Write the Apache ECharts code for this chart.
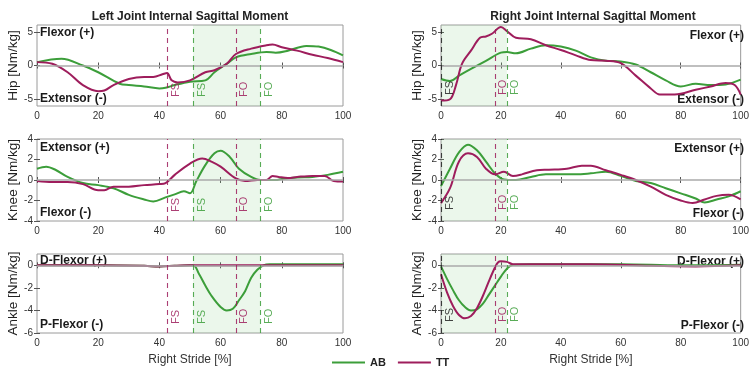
<!DOCTYPE html>
<html>
<head>
<meta charset="utf-8">
<script src="https://cdn.jsdelivr.net/npm/echarts@6/dist/echarts.min.js"></script>
<style>
  html, body { margin: 0; padding: 0; background: #fff; }
  #chart { width: 752px; height: 367px; }
</style>
</head>
<body>
<div id="chart"></div>
<script>
// ---- stride axis ----
const strideTicks = [0, 20, 40, 60, 80, 100];
const hipTicks = [-5, 0, 5];
const kneeTicks = [-4, -2, 0, 2, 4];
const ankleTicks = [-6, -4, -2, 0];

// ---- left side (% of right stride) ----
const leftHipAB_x = [0, 8, 15, 20, 27, 30, 35, 40, 42, 45, 50, 55, 58, 62, 65, 70, 75, 78, 82, 88, 92, 96, 100];
const leftHipAB_y = [0.5, 1.0, 0, -1, -2.7, -2.9, -3.1, -3.4, -3.3, -2.9, -2.4, -2.2, -1, 0.25, 1.2, 1.7, 2.0, 1.9, 2.2, 2.9, 2.8, 2.3, 1.5];
const leftHipTT_x = [0, 5, 10, 15, 20, 22, 25, 30, 35, 38, 41, 42.5, 44, 46, 50, 55, 58, 62, 65, 70, 75, 77, 80, 85, 90, 95, 100];
const leftHipTT_y = [0.5, 0.25, -1, -2.9, -3.8, -3.7, -2.9, -2, -1.7, -1.7, -1.3, -1.1, -2.2, -2.5, -2.2, -1, -0.7, 0.25, 1.7, 2.5, 3.0, 3.1, 2.7, 2.2, 1.6, 1.1, 0.5];

const leftKneeAB_x = [0, 3, 6, 10, 15, 20, 25, 30, 35, 38, 42, 45, 48, 50, 52, 55, 58, 60, 63, 66, 70, 73, 75, 78, 80, 85, 90, 95, 100];
const leftKneeAB_y = [1.1, 1.3, 1.0, 0.3, -0.3, -0.5, -0.8, -1.45, -1.9, -2.1, -1.7, -1.4, -1.1, -1.3, -0.15, 1.45, 2.6, 2.85, 2.25, 1.1, 0.3, 0, 0, 0, 0.1, 0.25, 0.3, 0.5, 0.8];
const leftKneeTT_x = [0, 5, 10, 15, 20, 22, 25, 30, 35, 40, 42, 45, 50, 54, 57, 60, 65, 68, 72, 75, 77, 79, 82, 85, 90, 94, 97, 100];
const leftKneeTT_y = [-0.1, -0.2, -0.2, -0.4, -1.0, -1.0, -0.65, -0.65, -0.5, -0.4, -0.3, 0.5, 1.6, 2.1, 1.8, 1.3, 0.15, -0.1, 0, 0, 0.4, 0.3, 0.2, 0.3, 0.4, 0.4, -0.1, -0.15];

const leftAnkleAB_x = [0, 20, 35, 40, 45, 51, 53, 55, 57, 60, 62, 64, 66, 68, 70, 72, 74, 76, 80, 90, 100];
const leftAnkleAB_y = [0, 0, -0.05, -0.1, -0.05, 0, -0.8, -1.8, -2.7, -3.7, -4.0, -3.85, -3.1, -2.3, -1.1, -0.4, 0, 0.1, 0.1, 0.1, 0.1];
const leftAnkleTT_x = [0, 20, 35, 40, 45, 50, 60, 70, 80, 90, 100];
const leftAnkleTT_y = [0, 0, -0.05, -0.1, -0.05, 0, 0, 0, 0, 0, 0];

// ---- right side ----
const rightHipAB_x = [0, 3, 6, 10, 15, 20, 22, 25, 30, 35, 40, 45, 50, 55, 60, 65, 70, 75, 80, 85, 90, 95, 100];
const rightHipAB_y = [-2.0, -2.3, -1.5, -0.5, 0.7, 1.9, 2.0, 1.8, 2.5, 3.0, 2.8, 2.2, 1.2, 0.7, 0.6, 0.15, -1, -2.2, -3.1, -2.7, -2.9, -2.8, -2.1];
const rightHipTT_x = [0, 3, 5, 7, 10, 13, 15, 17, 20, 22, 25, 30, 35, 40, 45, 50, 55, 60, 65, 70, 73, 78, 85, 90, 95, 98, 100];
const rightHipTT_y = [-5.2, -5.0, -2.9, 0.25, 2.2, 4.1, 4.3, 4.7, 5.7, 5.1, 4.1, 3.9, 3.0, 2.3, 1.5, 0.8, 0.7, 0.35, -1.5, -3.4, -4.3, -4.3, -3.6, -3.1, -2.6, -2.9, -4.3];

const rightKneeAB_x = [0, 3, 6, 9, 12, 15, 18, 21, 25, 30, 35, 40, 45, 50, 55, 60, 65, 70, 75, 80, 85, 88, 92, 96, 100];
const rightKneeAB_y = [-0.6, 1.1, 2.7, 3.45, 2.9, 1.8, 0.65, 0.05, 0, 0.3, 0.55, 0.55, 0.55, 0.65, 0.8, 0.4, -0.1, -0.3, -0.8, -1.3, -1.8, -2.2, -1.9, -1.6, -1.1];
const rightKneeTT_x = [0, 3, 6, 9, 12, 15, 18, 21, 24, 27, 32, 36, 42, 47, 50, 55, 60, 65, 70, 75, 80, 84, 88, 92, 96, 100];
const rightKneeTT_y = [-2.25, -0.8, 1.8, 2.6, 2.25, 1.1, 0.55, 0.8, 0.4, 0.55, 0.95, 1.0, 1.1, 1.4, 1.4, 0.95, 0.5, 0, -0.65, -1.45, -2.0, -2.25, -1.9, -1.55, -1.45, -1.9];

const rightAnkleAB_x = [0, 2, 4, 6, 8, 10, 12, 14, 16, 18, 20, 22, 24, 30, 40, 60, 80, 100];
const rightAnkleAB_y = [-0.1, -1.2, -2.2, -3.1, -3.7, -4.0, -3.9, -3.4, -2.6, -1.8, -1.0, -0.3, 0.05, 0.1, 0.1, 0.1, 0, 0.05];
const rightAnkleTT_x = [0, 2, 4, 6, 8, 10, 12, 14, 16, 18, 19, 20, 22, 24, 30, 50, 70, 85, 100];
const rightAnkleTT_y = [-0.8, -2.4, -3.6, -4.4, -4.7, -4.5, -3.8, -2.7, -1.4, -0.2, 0.25, 0.35, 0.3, 0.1, 0.1, 0.1, -0.05, -0.1, 0];

// ---- gait events ----
const leftEvents = [
  { x: 42.5, who: 'TT', name: 'FS' },
  { x: 51, who: 'AB', name: 'FS' },
  { x: 65, who: 'TT', name: 'FO' },
  { x: 73, who: 'AB', name: 'FO' }
];
const rightEvents = [
  { x: 0, who: 'both', name: 'FS' },
  { x: 18, who: 'TT', name: 'FO' },
  { x: 22, who: 'AB', name: 'FO' }
];
const leftStance = [51, 73];
const rightStance = [0, 22];

const titles = ['Left Joint Internal Sagittal Moment', 'Right Joint Internal Sagittal Moment'];
const jointNames = ['Hip [Nm/kg]', 'Knee [Nm/kg]', 'Ankle [Nm/kg]'];
const directionLabels = [
  ['Flexor (+)', 'Extensor (-)'],
  ['Extensor (+)', 'Flexor (-)'],
  ['D-Flexor (+)', 'P-Flexor (-)']
];
const xAxisTitle = 'Right Stride [%]';

// ---- styling ----
const GREEN = '#3c9e3a';
const PURPLE = '#9e1d5c';
const BLACK = '#222';
const colorOf = { AB: GREEN, TT: PURPLE, both: BLACK };
const FONT = 'Liberation Sans, Arial, sans-serif';

const colLeft = [37, 441];
const colWidth = [306, 305];
const rowTop = [25, 139, 254];
const rowHeight = [81, 82, 81];
const yRanges = [[-6, 6, hipTicks], [-4, 4, kneeTicks], [-6, 1, ankleTicks]];

const panels = [
  { col: 0, row: 0, ab: [leftHipAB_x, leftHipAB_y], tt: [leftHipTT_x, leftHipTT_y] },
  { col: 0, row: 1, ab: [leftKneeAB_x, leftKneeAB_y], tt: [leftKneeTT_x, leftKneeTT_y] },
  { col: 0, row: 2, ab: [leftAnkleAB_x, leftAnkleAB_y], tt: [leftAnkleTT_x, leftAnkleTT_y] },
  { col: 1, row: 0, ab: [rightHipAB_x, rightHipAB_y], tt: [rightHipTT_x, rightHipTT_y] },
  { col: 1, row: 1, ab: [rightKneeAB_x, rightKneeAB_y], tt: [rightKneeTT_x, rightKneeTT_y] },
  { col: 1, row: 2, ab: [rightAnkleAB_x, rightAnkleAB_y], tt: [rightAnkleTT_x, rightAnkleTT_y] }
];

const zip = (xs, ys) => xs.map((x, i) => [x, ys[i]]);

const grid = [], xAxis = [], yAxis = [], series = [], graphic = [];

panels.forEach((p, i) => {
  const [yMin, yMax, yTicks] = yRanges[p.row];
  grid.push({
    left: colLeft[p.col], top: rowTop[p.row], width: colWidth[p.col], height: rowHeight[p.row],
    show: true, borderColor: '#9a9a9a', borderWidth: 1, backgroundColor: 'transparent'
  });
  const tickStyle = { inside: true, length: 3, lineStyle: { color: '#555' } };
  // bottom stride axis
  xAxis.push({
    type: 'value', gridIndex: i, min: 0, max: 100, interval: 20,
    axisLine: { show: false }, splitLine: { show: false },
    axisTick: tickStyle,
    axisLabel: { fontSize: 10, color: '#333', margin: 5, fontFamily: FONT },
    name: p.row === 2 ? xAxisTitle : '', nameLocation: 'middle', nameGap: 21,
    nameTextStyle: { fontSize: 12, color: '#333', fontFamily: FONT }
  });
  // moment axis
  yAxis.push({
    type: 'value', gridIndex: i, min: yMin, max: yMax,
    axisLine: { show: false }, splitLine: { show: false },
    axisTick: Object.assign({ customValues: yTicks }, tickStyle),
    axisLabel: { customValues: yTicks, fontSize: 10, color: '#333', margin: 4, fontFamily: FONT },
    name: jointNames[p.row], nameLocation: 'middle', nameGap: 17,
    nameTextStyle: { fontSize: 13.5, color: '#222', fontFamily: FONT }
  });
});
// mirrored ticks along the top and right edges
panels.forEach((p, i) => {
  const [yMin, yMax, yTicks] = yRanges[p.row];
  const tickStyle = { inside: true, length: 3, lineStyle: { color: '#555' } };
  xAxis.push({
    type: 'value', gridIndex: i, position: 'top', min: 0, max: 100, interval: 20,
    axisLine: { show: false }, splitLine: { show: false }, axisLabel: { show: false }, axisTick: tickStyle
  });
  yAxis.push({
    type: 'value', gridIndex: i, position: 'right', min: yMin, max: yMax,
    axisLine: { show: false }, splitLine: { show: false },
    axisLabel: { show: false }, axisTick: Object.assign({ customValues: yTicks }, tickStyle)
  });
});

panels.forEach((p, i) => {
  const events = p.col === 0 ? leftEvents : rightEvents;
  const stance = p.col === 0 ? leftStance : rightStance;
  const eventLines = events.map(e => ({
    xAxis: e.x,
    lineStyle: { color: colorOf[e.who], type: [5, 4], width: 1.1, opacity: 0.85 },
    label: {
      show: true, formatter: e.name, position: 'insideStartBottom', distance: 3,
      color: colorOf[e.who], fontSize: 11, fontFamily: FONT,
      padding: [0, 0, 0, p.col === 0 ? 6 : 8]
    }
  }));
  series.push({
    name: 'AB', type: 'line', xAxisIndex: i, yAxisIndex: i,
    data: zip(p.ab[0], p.ab[1]), smooth: 0.35, showSymbol: false,
    lineStyle: { color: GREEN, width: 2 }, itemStyle: { color: GREEN },
    z: 3,
    markArea: {
      silent: true,
      itemStyle: { color: 'rgba(130, 205, 130, 0.16)' },
      data: [[{ xAxis: stance[0] }, { xAxis: stance[1] }]]
    },
    markLine: {
      silent: true, symbol: 'none', animation: false,
      data: [{ yAxis: 0, lineStyle: { color: '#aaa', type: 'solid', width: 1.5 }, label: { show: false } }].concat(eventLines)
    }
  });
  series.push({
    name: 'TT', type: 'line', xAxisIndex: i, yAxisIndex: i,
    data: zip(p.tt[0], p.tt[1]), smooth: 0.35, showSymbol: false,
    lineStyle: { color: PURPLE, width: 2 }, itemStyle: { color: PURPLE },
    z: 4
  });
});

// titles
[190, 593].forEach((cx, c) => {
  graphic.push({
    type: 'text', x: cx, y: 17,
    style: { text: titles[c], font: 'bold 12px ' + FONT, fill: '#222', textAlign: 'center', textVerticalAlign: 'middle' }
  });
});

// flexor / extensor captions inside each box
const captionY = [[33, 99], [148, 213], [261, 325]];
[0, 1, 2].forEach(r => {
  [0, 1].forEach(k => {
    graphic.push({
      type: 'text', x: 40, y: captionY[r][k],
      style: { text: directionLabels[r][k], font: 'bold 12px ' + FONT, fill: '#1a1a1a', textVerticalAlign: 'middle' }
    });
    graphic.push({
      type: 'text', x: 744, y: captionY[r][k] + (r === 0 && k === 0 ? 3 : 1),
      style: { text: directionLabels[r][k], font: 'bold 12px ' + FONT, fill: '#1a1a1a', textAlign: 'right', textVerticalAlign: 'middle' }
    });
  });
});

const chart = echarts.init(document.getElementById('chart'), null, { renderer: 'canvas' });
chart.setOption({
  animation: false,
  backgroundColor: '#fff',
  grid, xAxis, yAxis, series, graphic,
  legend: {
    data: ['AB', 'TT'], left: 327, top: 352,
    icon: 'rect', itemWidth: 33, itemHeight: 2, itemGap: 12,
    textStyle: { fontSize: 11, fontWeight: 'bold', color: '#222', fontFamily: FONT }
  }
});
</script>
</body>
</html>
